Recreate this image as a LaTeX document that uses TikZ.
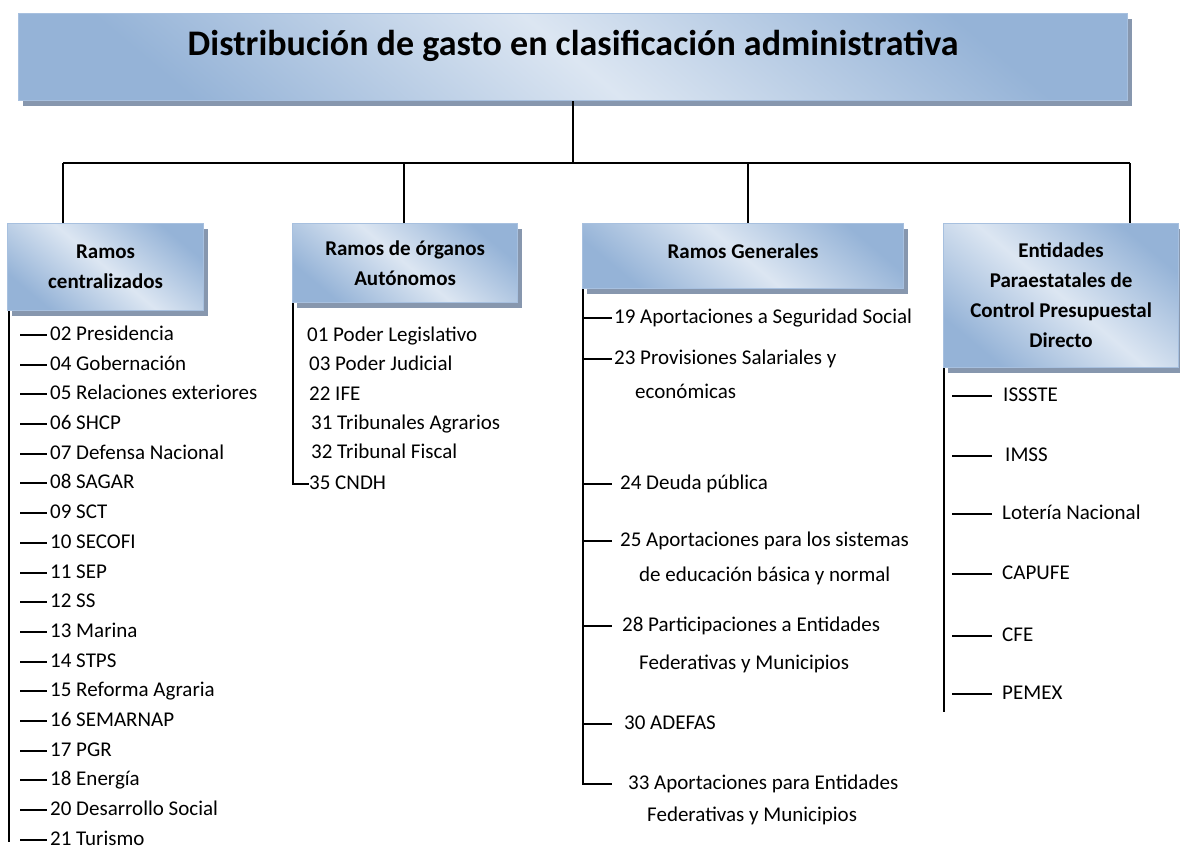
\documentclass[tikz,border=0pt]{standalone}
\usepackage{fontspec}
\setmainfont{Carlito}
\usetikzlibrary{shadows}
\definecolor{bxdark}{HTML}{95B3D7}
\definecolor{bxlight}{HTML}{DCE6F2}
\definecolor{bxline}{HTML}{A7C0DF}
\definecolor{bxshadow}{HTML}{8797AE}
\tikzset{
  hbox/.style={draw=bxline, line width=1.2pt, shading=axis,
    top color=bxdark, bottom color=bxdark, middle color=bxlight, shading angle=-40,
    drop shadow={shadow xshift=4pt, shadow yshift=-5pt, fill=bxshadow, opacity=1},
    inner sep=0pt, anchor=north west, align=center,
    font=\bfseries\fontsize{21}{30}\selectfont},
  item/.style={anchor=base west, inner sep=0pt, text height=10pt, text depth=0pt,
    font=\fontsize{21}{25}\selectfont},
  conn/.style={line width=1.6pt, black},
  tick/.style={line width=2pt, black},
  spine/.style={line width=2pt, black},
}
\begin{document}
\begin{tikzpicture}[x=1pt,y=-1pt]
\useasboundingbox (0,0) rectangle (1180,851);

% title
\node[hbox, minimum width=1109pt, minimum height=87pt, text height=20pt, text depth=23pt,
  font=\bfseries\fontsize{36}{40}\selectfont] (title) at (18,13)
  {Distribución de gasto en clasificación administrativa};

% category boxes
\node[hbox, minimum width=196pt, minimum height=87pt] (b1) at (7,223) {Ramos\\centralizados};
\node[hbox, minimum width=225pt, minimum height=79pt] (b2) at (292,223) {Ramos de órganos\\Autónomos};
\node[hbox, minimum width=321pt, minimum height=65pt, text height=16pt, text depth=12pt] (b3) at (582,223) {Ramos Generales};
\node[hbox, minimum width=235pt, minimum height=144pt] (b4) at (943,223) {Entidades\\Paraestatales de\\Control Presupuestal\\Directo};

% main connectors
\coordinate (bar) at (0,163);
\coordinate (d1) at (63,163);
\coordinate (d2) at (404,163);
\coordinate (d3) at (748,163);
\coordinate (d4) at (1130,163);
\draw[conn] (title.south) -- (title.south |- bar);
\draw[conn] (d1) -- (d4);
\draw[conn] (d1) -- (d1 |- b1.north);
\draw[conn] (d2) -- (d2 |- b2.north);
\draw[conn] (d3) -- (d3 |- b3.north);
\draw[conn] (d4) -- (d4 |- b4.north);

% column 1
\coordinate (s1) at (9,0);
\coordinate (s1end) at (9,842);
\draw[spine] (s1 |- b1.south) -- (s1end);
\foreach \t [count=\i] in {02 Presidencia, 04 Gobernación, 05 Relaciones exteriores, 06 SHCP,
  07 Defensa Nacional, 08 SAGAR, 09 SCT, 10 SECOFI, 11 SEP, 12 SS, 13 Marina, 14 STPS,
  15 Reforma Agraria, 16 SEMARNAP, 17 PGR, 18 Energía, 20 Desarrollo Social, 21 Turismo} {
  \node[item] (c\i) at (50,{round(340+(\i-1)*29.7)}) {\t};
  \draw[tick] ([xshift=-30pt]c\i.west) -- ([xshift=-3pt]c\i.west);
}

% column 2
\node[item] (g1) at (307,341) {01 Poder Legislativo};
\node[item] (g2) at (309,370) {03 Poder Judicial};
\node[item] (g3) at (309,400) {22 IFE};
\node[item] (g4) at (311,429) {31 Tribunales Agrarios};
\node[item] (g5) at (311,458) {32 Tribunal Fiscal};
\node[item] (g6) at (309,489) {35 CNDH};
\coordinate (s2) at (293,0);
\draw[spine] (s2 |- b2.south) |- (g6.west);

% column 3
\node[item] (r1) at (614,323) {19 Aportaciones a Seguridad Social};
\node[item] (r2) at (614,364) {23 Provisiones Salariales y};
\node[item] (r2b) at (635,398) {económicas};
\node[item] (r3) at (620,489) {24 Deuda pública};
\node[item] (r4) at (620,546) {25 Aportaciones para los sistemas};
\node[item] (r4b) at (639,581) {de educación básica y normal};
\node[item] (r5) at (622,631) {28 Participaciones a Entidades};
\node[item] (r5b) at (639,669) {Federativas y Municipios};
\node[item] (r6) at (624,729) {30 ADEFAS};
\node[item] (r7) at (628,789) {33 Aportaciones para Entidades};
\node[item] (r7b) at (647,821) {Federativas y Municipios};
\coordinate (s3) at (583,0);
\coordinate (te3) at (612,0);
\draw[spine] (s3 |- b3.south) |- (te3 |- r7.west);
\foreach \r in {r1,r2,r3,r4,r5,r6} {
  \draw[tick] (s3 |- \r.west) -- (te3 |- \r.west);
}

% column 4
\coordinate (s4) at (944,0);
\coordinate (s4end) at (944,712);
\draw[spine] (s4 |- b4.south) -- (s4end);
\foreach \t/\x/\y [count=\i] in {ISSSTE/1003/401, IMSS/1005/461, Lotería Nacional/1002/519,
  CAPUFE/1002/579, CFE/1002/641, PEMEX/1002/699} {
  \node[item] (p\i) at (\x,\y) {\t};
  \draw[tick] (952,0 |- p\i.west) -- (992,0 |- p\i.west);
}
\end{tikzpicture}
\end{document}
